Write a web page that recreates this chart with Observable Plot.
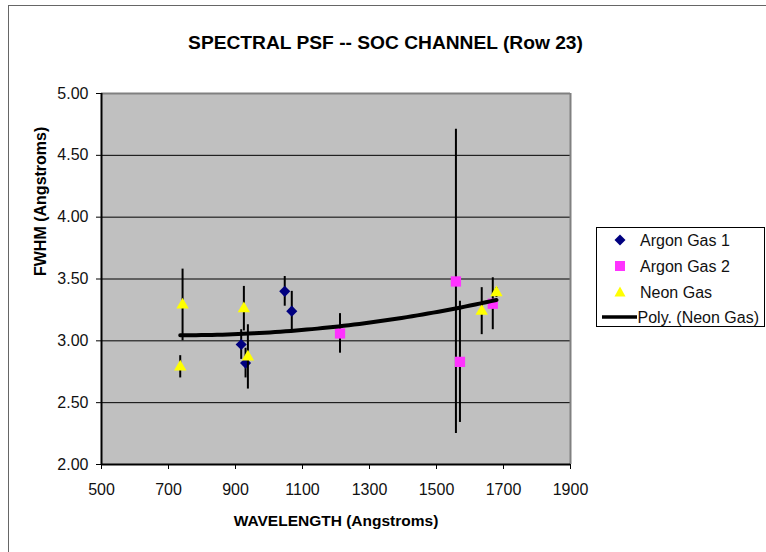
<!DOCTYPE html>
<html><head><meta charset="utf-8">
<script src="https://cdn.jsdelivr.net/npm/d3@7"></script>
<script src="https://cdn.jsdelivr.net/npm/@observablehq/plot@0.6"></script>
<style>
body{margin:0;background:#fff;}
#wrap{position:relative;width:766px;height:552px;overflow:hidden;font-family:Arial,"Liberation Sans",sans-serif;}
#frame{position:absolute;left:8px;top:5px;width:800px;height:600px;border-left:1px solid #666;border-top:1px solid #666;}
#chart{position:absolute;left:0;top:0;}
#legend{position:absolute;left:596px;top:227px;}
</style></head><body>
<div id="wrap"><div id="frame"></div><div id="chart"></div><div id="legend"></div></div>
<script>
// ---- data ----
const titleText = "SPECTRAL PSF -- SOC CHANNEL (Row 23)";
const xLabel = "WAVELENGTH (Angstroms)";
const yLabel = "FWHM (Angstroms)";
const seriesNames = ["Argon Gas 1", "Argon Gas 2", "Neon Gas", "Poly. (Neon Gas)"];
const seriesColors = ["#000080", "#ff33ff", "#ffff00", "#000000"];
const xTicks = [500, 700, 900, 1100, 1300, 1500, 1700, 1900];
const yTicks = [2.0, 2.5, 3.0, 3.5, 4.0, 4.5, 5.0];

const argon1X = [917, 930, 1047, 1068];
const argon1Y = [2.97, 2.82, 3.40, 3.24];
const argon1Err = [0.12, 0.12, 0.12, 0.16];

const argon2X = [1212, 1558, 1570, 1668];
const argon2Y = [3.06, 3.48, 2.83, 3.30];
const argon2Err = [0.16, 1.23, 0.49, 0.21];

const neonX = [735, 742, 925, 937, 1635, 1679];
const neonY = [2.79, 3.29, 3.26, 2.87, 3.24, 3.39];
const neonErr = [0.09, 0.29, 0.18, 0.26, 0.19, 0.04];

// ---- build tables ----
const rowsOf = (xs, ys, es, series) => xs.map((x, i) => ({series, x, y: ys[i], lo: ys[i] - es[i], hi: ys[i] + es[i]}));
const argon1 = rowsOf(argon1X, argon1Y, argon1Err, seriesNames[0]);
const argon2 = rowsOf(argon2X, argon2Y, argon2Err, seriesNames[1]);
const neon = rowsOf(neonX, neonY, neonErr, seriesNames[2]);

// 2nd-order polynomial trendline (least squares on Neon data), like Excel's "Poly." trendline
function quadFit(xs, ys) {
  const c = 1200, s = 100;
  const S = [0, 0, 0, 0, 0], T = [0, 0, 0];
  xs.forEach((x, i) => {
    const u = (x - c) / s;
    for (let k = 0; k < 5; k++) S[k] += u ** k;
    for (let k = 0; k < 3; k++) T[k] += ys[i] * u ** k;
  });
  const A = [[S[0], S[1], S[2], T[0]], [S[1], S[2], S[3], T[1]], [S[2], S[3], S[4], T[2]]];
  for (let i = 0; i < 3; i++) {
    for (let j = i + 1; j < 3; j++) {
      const f = A[j][i] / A[i][i];
      for (let k = i; k < 4; k++) A[j][k] -= f * A[i][k];
    }
  }
  const a = [0, 0, 0];
  for (let i = 2; i >= 0; i--) {
    let v = A[i][3];
    for (let k = i + 1; k < 3; k++) v -= A[i][k] * a[k];
    a[i] = v / A[i][i];
  }
  return x => { const u = (x - c) / s; return a[0] + a[1] * u + a[2] * u * u; };
}
const fit = quadFit(neonX, neonY);
const xMin = d3.min(neonX), xMax = d3.max(neonX);
const trend = d3.range(0, 61).map(i => { const x = xMin + (xMax - xMin) * i / 60; return {x, y: fit(x)}; });

const font = "Arial, 'Liberation Sans', sans-serif";

const chart = Plot.plot({
  width: 766, height: 552,
  marginLeft: 101, marginRight: 196, marginTop: 93, marginBottom: 88,
  style: {fontFamily: font, fontSize: "16px", color: "#000", background: "transparent", overflow: "visible"},
  x: {domain: [500, 1900], label: null},
  y: {domain: [2, 5], label: null},
  marks: [
    Plot.frame({fill: "#c0c0c0", stroke: null}),
    Plot.gridY(yTicks.slice(1, -1), {stroke: "#000", strokeOpacity: 1, strokeWidth: 1}),
    Plot.ruleY([5], {stroke: "#808080", strokeWidth: 2}),
    Plot.ruleX([1900], {stroke: "#808080", strokeWidth: 2}),
    Plot.axisX({ticks: xTicks, tickSize: 5, tickPadding: 14, tickFormat: d => String(d), label: null, fill: "#111"}),
    Plot.axisY({ticks: yTicks, tickSize: 5, tickPadding: 8, tickFormat: d => d.toFixed(2), label: null, fill: "#111"}),
    Plot.ruleX([500], {stroke: "#000", strokeWidth: 2}),
    Plot.ruleY([2], {stroke: "#000", strokeWidth: 2}),
    Plot.ruleX(argon1, {x: "x", y1: "lo", y2: "hi", stroke: "#000", strokeWidth: 2}),
    Plot.dot(argon1, {x: "x", y: "y", symbol: "diamond2", r: 5, fill: seriesColors[0], stroke: null}),
    Plot.ruleX(argon2, {x: "x", y1: "lo", y2: "hi", stroke: "#000", strokeWidth: 2}),
    Plot.dot(argon2, {x: "x", y: "y", symbol: "square", r: 5.8, fill: seriesColors[1], stroke: null}),
    Plot.ruleX(neon, {x: "x", y1: "lo", y2: "hi", stroke: "#000", strokeWidth: 2}),
    Plot.dot(neon, {x: "x", y: "y", symbol: "triangle", r: 4.6, fill: seriesColors[2], stroke: null}),
    Plot.line(trend, {x: "x", y: "y", stroke: seriesColors[3], strokeWidth: 4, strokeLinecap: "round"}),
    Plot.text([titleText], {frameAnchor: "top", dx: 49.5, dy: -45, lineAnchor: "bottom", fontSize: 19.2, fontWeight: "bold", fill: "#000"}),
    Plot.text([xLabel], {frameAnchor: "bottom", dy: 61, lineAnchor: "bottom", fontSize: 15.5, fontWeight: "bold", fill: "#000"}),
    Plot.text([yLabel], {frameAnchor: "left", dx: -56, dy: -3, rotate: -90, lineAnchor: "bottom", fontSize: 16, fontWeight: "bold", fill: "#000"})
  ]
});
document.getElementById("chart").appendChild(chart);

// ---- legend ----
const ns = "http://www.w3.org/2000/svg";
const lg = document.createElementNS(ns, "svg");
lg.setAttribute("width", 170); lg.setAttribute("height", 100);
lg.style.display = "block";
const el = (tag, attrs) => { const e = document.createElementNS(ns, tag); for (const k in attrs) e.setAttribute(k, attrs[k]); lg.appendChild(e); return e; };
el("rect", {x: 0.5, y: 0.5, width: 168, height: 99, fill: "#fff", stroke: "#000", "stroke-width": 1});
const rowY = [13, 39, 65, 90];
el("path", {d: `M24,${rowY[0] - 5.5}L29.5,${rowY[0]}L24,${rowY[0] + 5.5}L18.5,${rowY[0]}Z`, fill: seriesColors[0]});
el("rect", {x: 19, y: rowY[1] - 5, width: 10, height: 10, fill: seriesColors[1]});
el("path", {d: `M24,${rowY[2] - 5.5}L29.5,${rowY[2] + 4.5}L18.5,${rowY[2] + 4.5}Z`, fill: seriesColors[2]});
el("line", {x1: 6, x2: 41, y1: rowY[3], y2: rowY[3], stroke: "#000", "stroke-width": 3.5});
seriesNames.forEach((name, i) => {
  const t = el("text", {x: i === 3 ? 41.5 : 44, y: rowY[i], dy: "0.36em", "font-family": font, "font-size": 16, fill: "#111"});
  t.textContent = name;
});
document.getElementById("legend").appendChild(lg);
</script>
</body></html>
